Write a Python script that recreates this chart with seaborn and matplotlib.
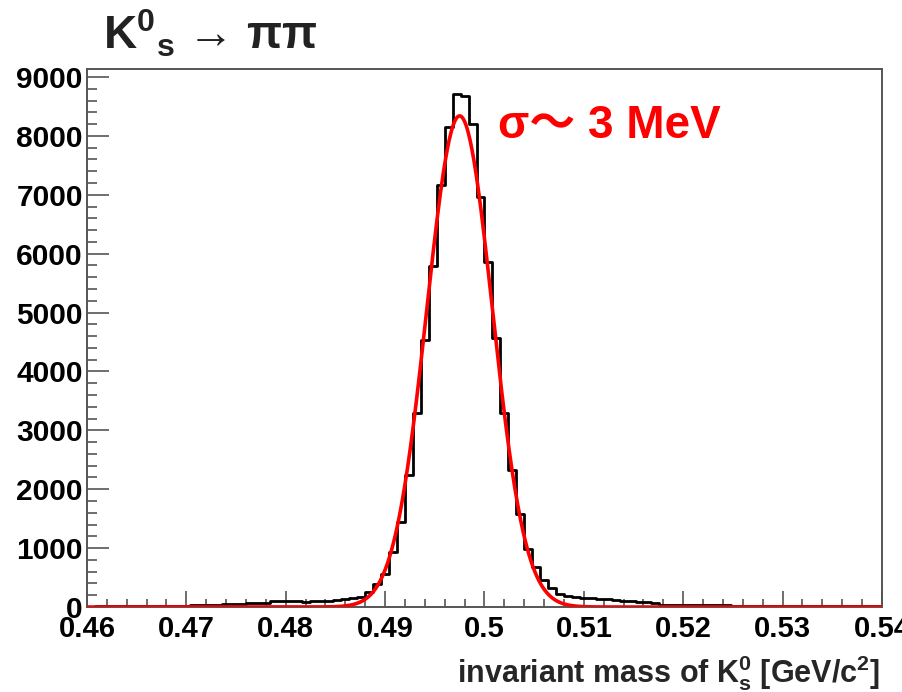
import numpy as np
import pandas as pd
import matplotlib
matplotlib.use('Agg')
import matplotlib.pyplot as plt
from matplotlib.ticker import MultipleLocator
import seaborn as sns

# histogram: 100 bins of 0.8 MeV between 0.46 and 0.54 GeV/c^2
x_lo, x_hi, n_bins = 0.46, 0.54, 100
counts = [8, 9, 10, 11, 12, 13, 14, 15, 16, 17,
          20, 22, 25, 27, 30, 32, 35, 45, 50, 55,
          60, 65, 70, 100, 110, 105, 95, 90, 100, 105,
          110, 115, 130, 150, 175, 250, 390, 565, 935, 1449,
          2241, 3288, 4533, 5795, 7165, 8155, 8710, 8675, 8200, 6966,
          5863, 4562, 3294, 2326, 1580, 985, 684, 458, 317, 215,
          180, 170, 150, 145, 130, 128, 125, 105, 100, 90,
          85, 60, 40, 35, 33, 32, 30, 29, 28, 27,
          26, 25, 24, 23, 22, 21, 20, 19, 18, 17,
          16, 15, 14, 13, 13, 12, 12, 11, 10, 10]

# gaussian fit parameters
fit_mean = 0.4975
fit_sigma = 0.0033
fit_amp = 8340

xtick_vals = [0.46, 0.47, 0.48, 0.49, 0.50, 0.51, 0.52, 0.53, 0.54]
xtick_labels = ['0.46', '0.47', '0.48', '0.49', '0.5', '0.51', '0.52', '0.53', '0.54']
ytick_vals = [0, 1000, 2000, 3000, 4000, 5000, 6000, 7000, 8000, 9000]

sns.set_style('ticks')
plt.rcParams['font.family'] = ['Liberation Sans', 'DejaVu Sans']
plt.rcParams['mathtext.fontset'] = 'custom'
plt.rcParams['mathtext.rm'] = 'Liberation Sans'
plt.rcParams['mathtext.bf'] = 'Liberation Sans:bold'
plt.rcParams['mathtext.it'] = 'Liberation Sans:italic'

bw = (x_hi - x_lo) / n_bins
centers = x_lo + bw * (np.arange(n_bins) + 0.5)
df = pd.DataFrame({'mass': centers, 'n': counts})

xf = np.linspace(x_lo, x_hi, 800)
df_fit = pd.DataFrame({'mass': xf,
                       'y': fit_amp * np.exp(-0.5 * ((xf - fit_mean) / fit_sigma) ** 2)})

fig = plt.figure(figsize=(9.03, 6.92), dpi=100)
ax = fig.add_axes([0.0963, 0.1228, 0.8804, 0.7775])

sns.histplot(data=df, x='mass', weights='n', bins=n_bins, binrange=(x_lo, x_hi),
             element='step', fill=False, color='black', linewidth=2.0, ax=ax)
sns.lineplot(data=df_fit, x='mass', y='y', color='red', linewidth=2.6, ax=ax,
             zorder=3)

ax.set_xlim(x_lo, x_hi)
ax.set_ylim(0, 9136)
ax.set_xticks(xtick_vals)
ax.set_xticklabels(xtick_labels)
ax.set_yticks(ytick_vals)
ax.set_yticklabels([str(v) for v in ytick_vals])
ax.xaxis.set_minor_locator(MultipleLocator(0.002))
ax.yaxis.set_minor_locator(MultipleLocator(200))

ax.tick_params(axis='both', which='both', direction='in', colors='#555555',
               labelcolor='black', width=1.2)
ax.tick_params(axis='x', which='major', length=11.5, pad=6, labelsize=21)
ax.tick_params(axis='x', which='minor', length=5.8)
ax.tick_params(axis='y', which='major', length=16, pad=3, labelsize=21.5)
ax.tick_params(axis='y', which='minor', length=7.2)
for lab in ax.get_xticklabels() + ax.get_yticklabels():
    lab.set_fontweight('bold')

for sp in ax.spines.values():
    sp.set_visible(True)
    sp.set_color('#555555')
    sp.set_linewidth(1.4)

ax.set_xlabel(r'invariant mass of $\mathbf{K}^\mathbf{0}_\mathbf{s}$ [GeV/$\mathbf{c}^\mathbf{2}$]',
              fontsize=22, fontweight='bold')
ax.xaxis.set_label_coords(0.9975, -0.141)
ax.xaxis.label.set_horizontalalignment('right')
ax.xaxis.label.set_verticalalignment('baseline')
ax.set_ylabel('')

fig.text(0.114, 0.928, r'K$^\mathbf{0}$$_\mathbf{s}$ → ππ', fontsize=33,
         fontweight='bold', color='#222222', ha='left', va='baseline')
fig.text(0.551, 0.800, 'σ〜 3 MeV', fontsize=33,
         fontweight='bold', color='red', ha='left', va='baseline',
         family=['Liberation Sans', 'Noto Sans CJK JP'])

fig.savefig('out.png', dpi=100, facecolor='white')
